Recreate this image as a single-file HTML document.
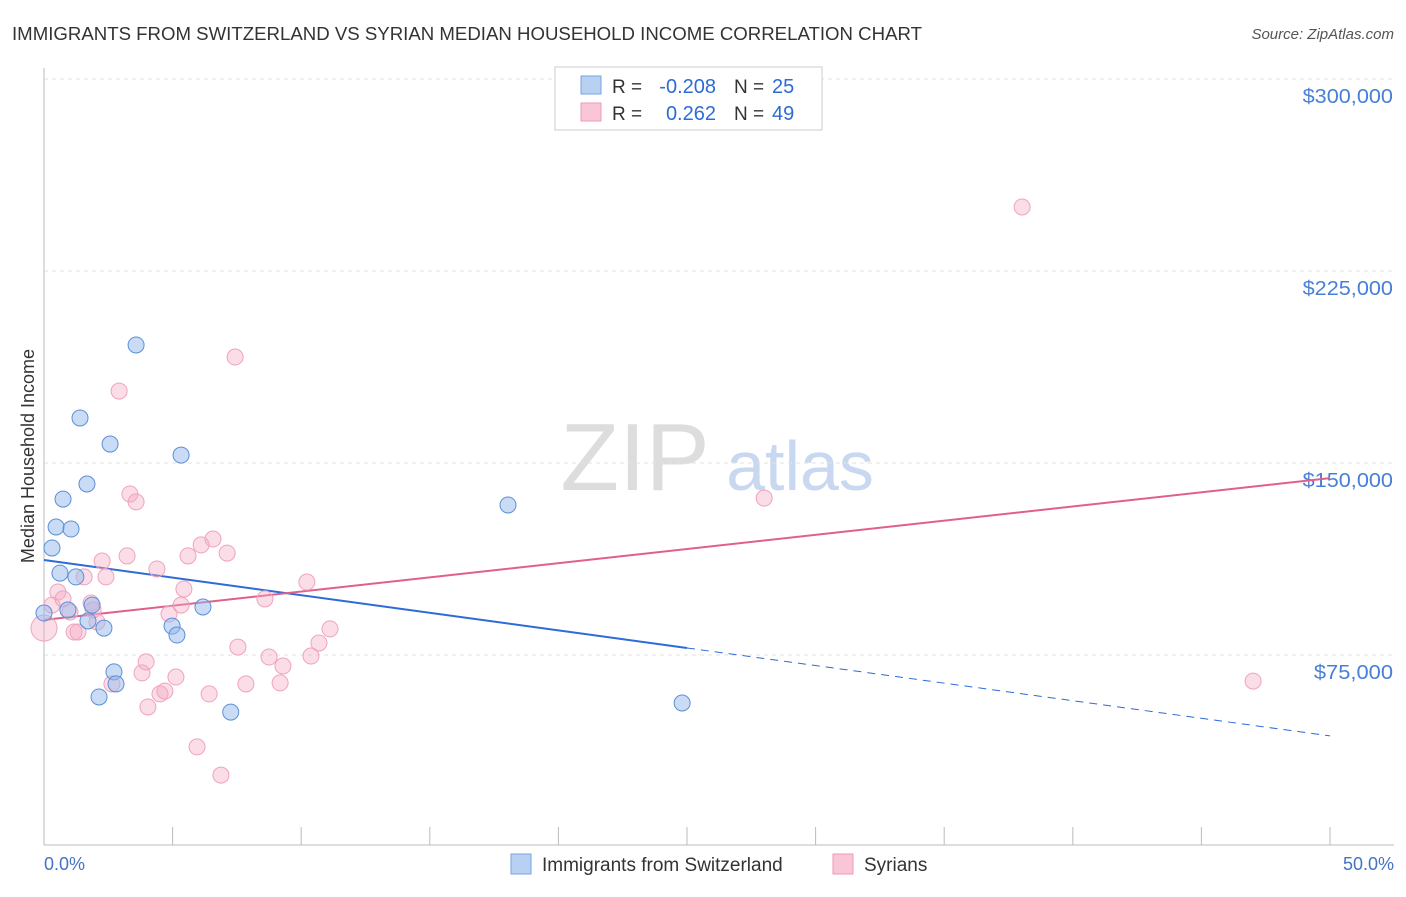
<!DOCTYPE html>
<html><head><meta charset="utf-8"><style>
body{margin:0;background:#fff;font-family:"Liberation Sans",sans-serif;}
svg text{font-family:"Liberation Sans",sans-serif;}
</style></head><body>
<svg id="chart" width="1406" height="892">
<text x="12" y="40" font-size="18" fill="#333" textLength="910" lengthAdjust="spacingAndGlyphs">IMMIGRANTS FROM SWITZERLAND VS SYRIAN MEDIAN HOUSEHOLD INCOME CORRELATION CHART</text>
<text x="1394" y="39" font-size="15" fill="#555" font-style="italic" text-anchor="end">Source: ZipAtlas.com</text>
<text x="635" y="490" font-size="96" fill="#ddd" font-family="Liberation Serif" text-anchor="middle">ZIP</text>
<text x="800" y="490" font-size="70" fill="#c8d8f0" text-anchor="middle">atlas</text>
<g id="grid"></g><g id="axes"></g><g id="lines"></g><g id="pts"></g>
<text transform="translate(34,456) rotate(-90)" font-size="18" fill="#333" text-anchor="middle">Median Household Income</text>
<text x="44" y="870" font-size="18" fill="#4472c4">0.0%</text>
<text x="1394" y="870" font-size="18" fill="#4472c4" text-anchor="end">50.0%</text>
<g>
<rect x="555" y="67" width="267" height="63" fill="#fff" stroke="#ccc"/>
<rect x="581" y="76" width="20" height="18" fill="#b8d0f2" stroke="#7aa3e0"/>
<rect x="581" y="103" width="20" height="18" fill="#f8c6d6" stroke="#ee9ab6"/>
<text x="612" y="93" font-size="19" fill="#333">R =</text>
<text x="716" y="93" font-size="20" fill="#2d6bd6" text-anchor="end">-0.208</text>
<text x="734" y="93" font-size="19" fill="#333">N =</text>
<text x="772" y="93" font-size="20" fill="#2d6bd6">25</text>
<text x="612" y="120" font-size="19" fill="#333">R =</text>
<text x="716" y="120" font-size="20" fill="#2d6bd6" text-anchor="end">0.262</text>
<text x="734" y="120" font-size="19" fill="#333">N =</text>
<text x="772" y="120" font-size="20" fill="#2d6bd6">49</text>
</g>
<g>
<rect x="511" y="854" width="20" height="20" fill="#b8d0f2" stroke="#7aa3e0"/>
<text x="542" y="871" font-size="19" fill="#333">Immigrants from Switzerland</text>
<rect x="833" y="854" width="20" height="20" fill="#f8c6d6" stroke="#ee9ab6"/>
<text x="864" y="871" font-size="19" fill="#333">Syrians</text>
</g>
</svg>
<script>
const yTicks=[75000,150000,225000,300000];
const yTickLabels=["$75,000","$150,000","$225,000","$300,000"];
const blueX=[0,0.31,0.47,0.74,1.05,0.62,1.24,0.93,1.40,1.67,1.87,1.71,2.33,2.14,2.57,2.72,2.80,3.58,5.33,4.98,5.17,6.18,7.26,18.04,24.81];
const blueY=[91400,116800,125000,135900,124200,107000,105500,92600,167600,141800,94500,88300,85500,58600,157400,68400,63700,196100,153100,86300,82800,93750,52700,133600,56250];
const pinkX=[0,0.31,0.54,0.74,1.01,1.17,1.32,1.56,1.83,1.91,2.06,2.26,2.41,2.64,2.92,3.23,3.34,3.58,3.81,3.97,4.04,4.39,4.51,4.70,4.86,5.13,5.33,5.44,5.60,5.95,6.11,6.42,6.57,6.88,7.12,7.43,7.54,7.85,8.59,8.75,9.18,9.29,10.22,10.38,10.69,11.12,28.0,38.03,47.01];
const pinkY=[85500,94500,99600,96900,91800,84000,84000,105500,95300,92600,87900,111700,105500,63700,178100,113700,137900,134800,68000,72300,54700,108600,59800,60900,91000,66400,94500,100800,113700,39100,118000,59800,120300,28100,114800,191400,78100,63700,96900,74200,64100,70700,103500,74600,79700,85200,136300,250000,64800];
const blueTrend=[112100,-1374]; // intercept, slope per %
const pinkTrend=[88700,1108];
const NS="http://www.w3.org/2000/svg";
const X=p=>44+p*1286/50;
const Y=v=>847-v*192/75000;
function mk(tag,attrs,parent){const e=document.createElementNS(NS,tag);for(const k in attrs)e.setAttribute(k,attrs[k]);document.getElementById(parent).appendChild(e);return e;}
yTicks.forEach((t,i)=>{
 const g=mk('line',{x1:44,x2:1394,y1:Y(t),y2:Y(t),stroke:'#e2e2e2','stroke-dasharray':'4,4'},'grid');
 
 
 const l=mk('text',{x:1393,y:Y(t)+24,'font-size':20,fill:'#4a7fd8','text-anchor':'end',textLength:yTickLabels[i].length*11.3,lengthAdjust:'spacingAndGlyphs'},'axes');
 l.textContent=yTickLabels[i];
 
 
});
const ya=mk('line',{x1:44,x2:44,y1:68,y2:845,stroke:'#bbb'},'axes');


const xa=mk('line',{x1:44,x2:1394,y1:845,y2:845,stroke:'#bbb'},'axes');


for(let i=0;i<=10;i++){const t=mk('line',{x1:X(i*5),x2:X(i*5),y1:827,y2:845,stroke:'#bbb'},'axes');
 
 }
const tv=(tr,p)=>tr[0]+tr[1]*p;
const b1=mk('line',{x1:X(0),y1:Y(tv(blueTrend,0)),x2:X(25),y2:Y(tv(blueTrend,25)),stroke:'#2d6bd6','stroke-width':2},'lines');


const b2=mk('line',{x1:X(25),y1:Y(tv(blueTrend,25)),x2:X(50),y2:Y(tv(blueTrend,50)),stroke:'#2d6bd6','stroke-width':1,'stroke-dasharray':'8,6'},'lines');


const p1=mk('line',{x1:X(0),y1:Y(tv(pinkTrend,0)),x2:X(50),y2:Y(tv(pinkTrend,50)),stroke:'#e0608a','stroke-width':2},'lines');


pinkX.forEach((x,i)=>{const c=mk('circle',{cx:X(x),cy:Y(pinkY[i]),r:i==0?13:8,fill:'rgba(246,170,196,0.4)',stroke:'#efa3bd','stroke-width':1},'pts');
 
 });
blueX.forEach((x,i)=>{const c=mk('circle',{cx:X(x),cy:Y(blueY[i]),r:8,fill:'rgba(150,185,235,0.5)',stroke:'#5b8fd8','stroke-width':1},'pts');
 
 });
</script>
</body></html>
